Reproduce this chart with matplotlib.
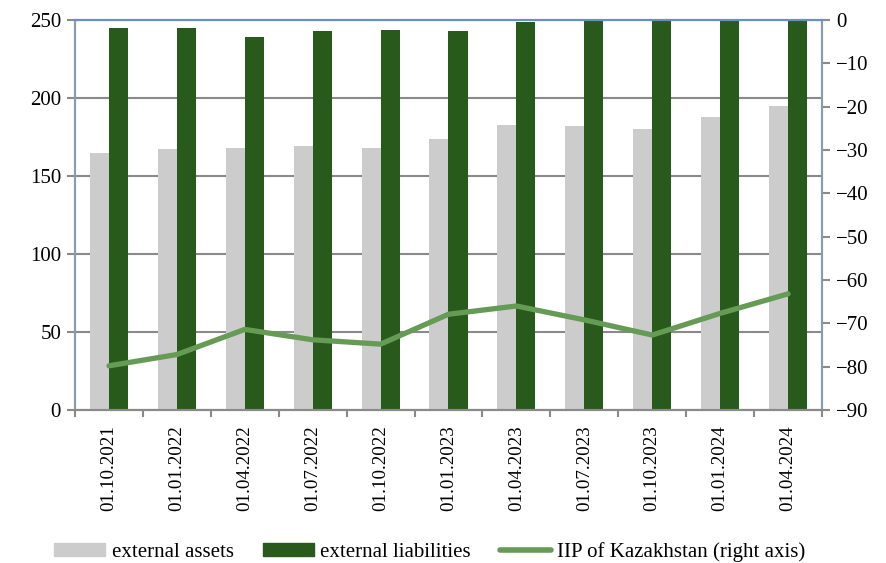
import matplotlib
matplotlib.use("Agg")
import matplotlib.pyplot as plt
from matplotlib import font_manager as fm
import numpy as np
from matplotlib.patches import Patch
from matplotlib.lines import Line2D

SERIF = '/usr/share/fonts/truetype/liberation/LiberationSerif-Regular.ttf'
fm.fontManager.addfont(SERIF)
plt.rcParams['font.family'] = ['Liberation Serif', 'DejaVu Serif']

dates = ["01.10.2021", "01.01.2022", "01.04.2022", "01.07.2022", "01.10.2022",
         "01.01.2023", "01.04.2023", "01.07.2023", "01.10.2023", "01.01.2024", "01.04.2024"]
external_assets = [165, 167, 168, 169, 168, 174, 183, 182, 180, 188, 195]
external_liabilities = [245, 245, 239, 243, 243.5, 243, 249, 252, 253, 256, 258]
iip = [-79.8, -77.2, -71.4, -73.8, -74.8, -67.9, -66.0, -69.2, -72.7, -67.7, -63.2]

tick_fp = fm.FontProperties(fname=SERIF, size=15)
xt_fp = fm.FontProperties(fname=SERIF, size=13.7)
leg_fp = fm.FontProperties(fname=SERIF, size=15)

fig = plt.figure(figsize=(8.86, 5.63), dpi=100)
ax = fig.add_axes([75/886, 1-410/563, (822-75)/886, (410-20)/563])
ax2 = ax.twinx()

x = np.arange(len(dates))
w = 0.28
ax.bar(x - w/2, external_assets, width=w, color='#cccccc', zorder=2)
ax.bar(x + w/2, external_liabilities, width=w, color='#285a1b', zorder=2)
ax.set_ylim(0, 250)
ax.set_xlim(-0.5, len(dates) - 0.5)
ax.set_yticks([0, 50, 100, 150, 200, 250])
ax.grid(axis='y', color='#8a8a8a', linewidth=1.5, zorder=0)
ax.set_axisbelow(True)

ax2.plot(x, iip, color='#659b55', linewidth=3.8, solid_capstyle='round', zorder=3)
ax2.set_ylim(-90, 0)
ax2.set_yticks(np.arange(-90, 1, 10))

ax.set_xticks(x)
ax.set_xticklabels(dates, rotation=90)
ax.set_xticks(np.arange(-0.5, len(dates), 1), minor=True)
ax.tick_params(axis='x', which='major', length=0, pad=11)
ax.tick_params(axis='x', which='minor', length=5, color='#8a8a8a', width=1.5)
ax.tick_params(axis='y', length=6, color='#8a8a8a', width=1.5, pad=4)
ax2.tick_params(axis='y', length=6, color='#8a8a8a', width=1.5, pad=4)
for lab in ax.get_xticklabels():
    lab.set_fontproperties(xt_fp)
for lab in ax.get_yticklabels() + ax2.get_yticklabels():
    lab.set_fontproperties(tick_fp)

for a in (ax, ax2):
    a.spines['left'].set_color('#8c9aae')
    a.spines['left'].set_linewidth(1.5)
    a.spines['right'].set_color('#8c9aae')
    a.spines['right'].set_linewidth(1.5)
    a.spines['bottom'].set_color('#8a8a8a')
    a.spines['bottom'].set_linewidth(1.5)
    a.spines['top'].set_color('#6b8fc4')
    a.spines['top'].set_linewidth(1.5)

handles = [Patch(color='#cccccc', label='external assets'),
           Patch(color='#285a1b', label='external liabilities'),
           Line2D([0], [0], color='#659b55', linewidth=4, solid_capstyle='round',
                  label='IIP of Kazakhstan (right axis)')]
fig.legend(handles=handles, loc='center', bbox_to_anchor=(430/886, 1-552/563), ncol=3,
           frameon=False, prop=leg_fp, handlelength=2.45, handleheight=0.53,
           columnspacing=1.4, handletextpad=0.3, borderpad=0, borderaxespad=0)

fig.savefig('out.png', dpi=100)
